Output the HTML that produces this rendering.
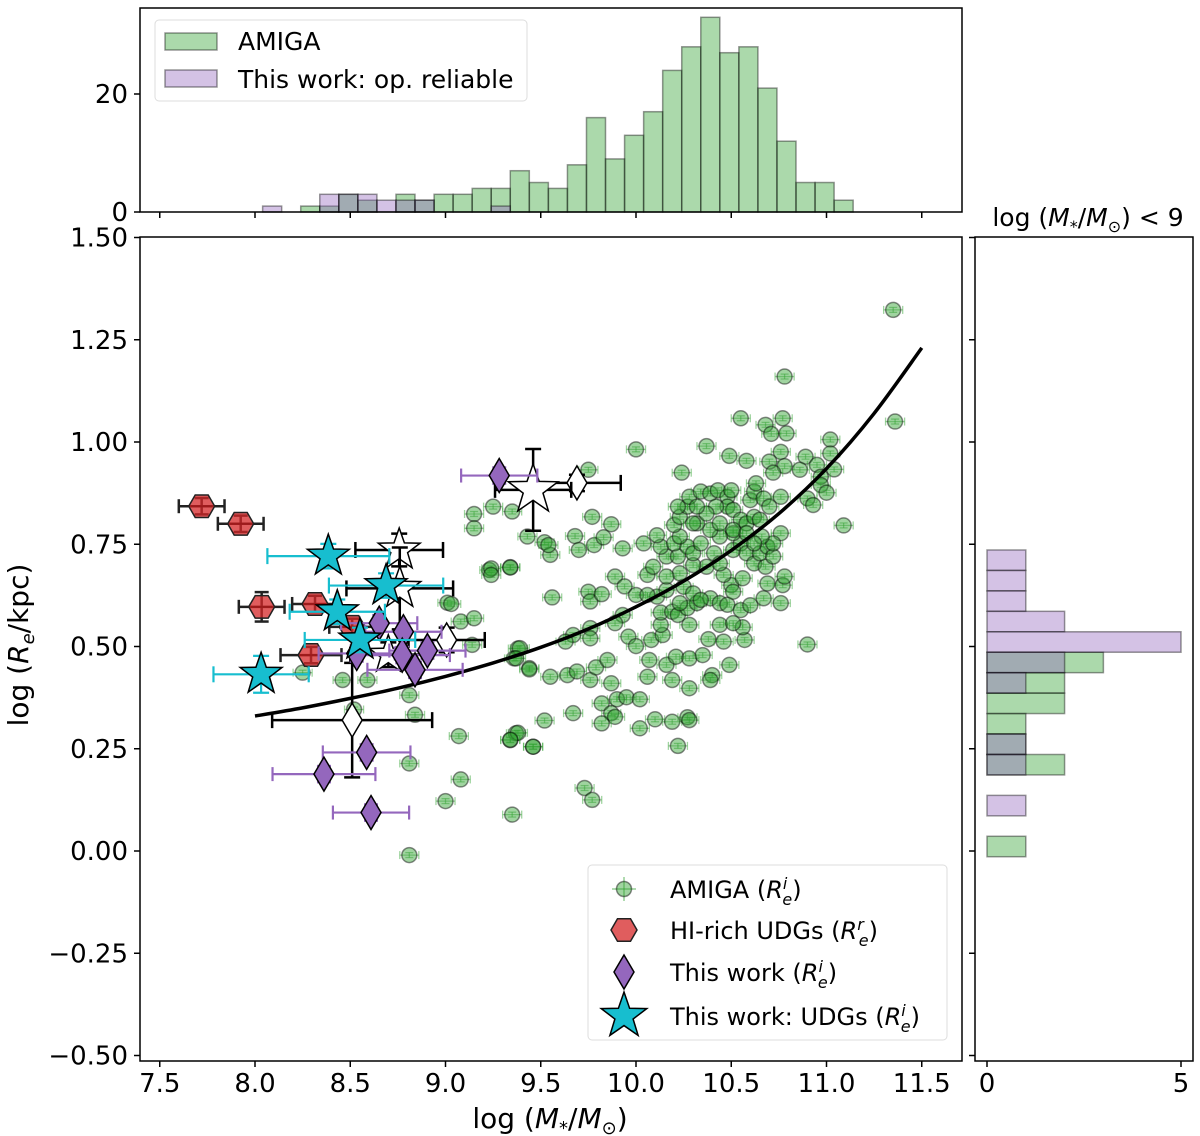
<!DOCTYPE html>
<html><head><meta charset="utf-8">
<style>
html,body{margin:0;padding:0;background:#fff;}
svg{display:block;font-family:"DejaVu Sans","Liberation Sans",sans-serif;}
</style></head>
<body>
<svg id="fig" width="1200" height="1136" viewBox="0 0 1200 1136" xmlns="http://www.w3.org/2000/svg"></svg>
<script>
// ---------- data ----------
const amigaX = [11.35,10.78,11.36,10.55,10.68,10.77,10.79,10.71,11.02,10.0,10.37,10.49,10.58,10.76,10.70,10.78,10.72,10.89,10.95,10.86,11.02,11.04,10.97,10.97,11.0,10.90,10.93,11.09,10.24,9.75,9.25,9.77,9.87,9.43,9.52,9.55,9.68,9.70,9.78,9.83,9.93,9.23,9.34,9.56,9.75,9.76,9.82,9.89,9.94,10.0,9.93,9.89,9.96,10.0,10.08,9.76,9.76,9.67,9.63,9.38,9.36,9.44,9.55,9.64,9.69,9.76,9.79,9.85,9.87,9.82,9.9,9.95,10.02,9.87,9.89,9.82,9.67,9.52,9.37,9.34,9.46,10.02,10.10,10.19,10.27,10.28,10.22,10.07,10.06,10.16,10.19,10.21,10.28,10.28,10.35,10.40,10.39,10.49,10.38,10.46,10.57,10.90,10.56,10.44,10.51,10.28,10.14,10.13,10.13,10.19,10.22,10.27,10.32,10.39,10.44,10.48,10.55,10.6,10.67,10.76,10.11,10.06,10.16,10.25,10.3,10.34,10.23,10.69,10.77,10.78,10.50,10.51,10.56,10.46,10.37,10.30,10.23,10.16,10.06,10.09,10.16,10.22,10.13,10.04,10.11,10.20,10.27,10.23,10.30,10.34,10.41,10.44,10.51,10.55,10.58,10.62,10.68,10.65,10.69,10.72,10.76,10.72,10.66,10.51,10.44,10.39,10.32,10.20,10.23,10.27,10.22,10.28,10.34,10.39,10.43,10.48,10.50,10.48,10.51,10.55,10.58,10.62,10.65,10.6,10.62,10.63,10.67,10.70,10.76,10.42,10.37,10.44,10.51,10.58,10.62,10.32,10.30,9.15,9.15,9.24,9.34,9.24,9.01,9.03,9.08,9.15,9.14,9.39,9.37,9.44,8.25,8.46,8.59,8.81,8.84,9.07,9.38,9.34,9.46,8.52,8.81,9.08,9.0,9.35,8.81,9.73,9.77,9.35,9.54];
const amigaY = [1.323,1.16,1.05,1.058,1.042,1.058,1.021,1.02,1.006,0.982,0.99,0.966,0.954,0.976,0.952,0.941,0.925,0.964,0.944,0.932,0.972,0.933,0.915,0.895,0.876,0.862,0.846,0.796,0.925,0.932,0.842,0.817,0.799,0.769,0.755,0.724,0.77,0.736,0.748,0.767,0.74,0.687,0.694,0.62,0.634,0.61,0.628,0.671,0.647,0.626,0.577,0.557,0.524,0.501,0.516,0.545,0.52,0.528,0.512,0.495,0.471,0.447,0.426,0.43,0.439,0.418,0.449,0.467,0.41,0.361,0.371,0.376,0.371,0.337,0.328,0.312,0.337,0.319,0.288,0.271,0.255,0.30,0.322,0.316,0.327,0.32,0.257,0.467,0.426,0.455,0.418,0.475,0.398,0.471,0.479,0.43,0.418,0.455,0.518,0.512,0.516,0.505,0.547,0.553,0.557,0.553,0.528,0.553,0.583,0.585,0.577,0.594,0.606,0.618,0.606,0.602,0.589,0.601,0.618,0.606,0.622,0.626,0.638,0.646,0.63,0.614,0.606,0.654,0.65,0.671,0.65,0.634,0.667,0.675,0.695,0.699,0.679,0.671,0.675,0.695,0.72,0.72,0.744,0.752,0.772,0.752,0.744,0.769,0.728,0.752,0.728,0.703,0.736,0.752,0.728,0.703,0.695,0.728,0.744,0.72,0.777,0.752,0.769,0.777,0.769,0.785,0.801,0.797,0.817,0.842,0.842,0.866,0.879,0.874,0.882,0.866,0.882,0.842,0.834,0.81,0.801,0.817,0.81,0.858,0.879,0.899,0.862,0.842,0.866,0.842,0.825,0.801,0.785,0.777,0.752,0.842,0.801,0.824,0.789,0.691,0.693,0.675,0.607,0.604,0.561,0.569,0.504,0.496,0.471,0.444,0.436,0.418,0.418,0.381,0.333,0.281,0.289,0.272,0.255,0.346,0.214,0.175,0.122,0.089,-0.01,0.154,0.125,0.83,0.748];

const redX = [7.72,7.925,8.035,8.315,8.51,8.294];
const redY = [0.843,0.80,0.597,0.604,0.548,0.479];
const redXerr = [0.12,0.12,0.12,0.12,0.12,0.16];
const redYerr = [0.02,0.02,0.036,0.02,0.02,0.02];

const purX = [9.282,8.652,8.779,8.773,8.905,8.84,8.534,8.586,8.362,8.609];
const purY = [0.918,0.557,0.536,0.479,0.49,0.443,0.483,0.241,0.188,0.094];
const purXerr = [0.2,0.2,0.2,0.25,0.2,0.25,0.2,0.23,0.27,0.2];
const purYerr = [0.02,0.02,0.02,0.02,0.02,0.02,0.02,0.02,0.02,0.02];

const cyX = [8.385,8.688,8.432,8.551,8.032];
const cyY = [0.721,0.649,0.585,0.516,0.432];
const cyXerr = [0.32,0.3,0.25,0.29,0.25];
const cyYerr = [0.03,0.03,0.03,0.03,0.045];

const whiteStarX = [8.757,8.76,8.70,9.46];
const whiteStarY = [0.736,0.642,0.48,0.883];
const whiteStarXerr = [0.23,0.28,0.2,0.2];
const whiteStarYerr = [0.04,0.1,0.03,0.1];
const whiteStarSize = [22,22,20,26];

const whiteDiaX = [9.006,8.51,9.69];
const whiteDiaY = [0.516,0.32,0.90];
const whiteDiaXerr = [0.2,0.42,0.23];
const whiteDiaYerr = [0.03,0.14,0.02];

const fitX = [8.0,8.25,8.5,8.75,9.0,9.25,9.5,9.75,10.0,10.25,10.5,10.75,11.0,11.25,11.5];
const fitY = [0.33,0.35,0.373,0.398,0.427,0.46,0.498,0.543,0.597,0.66,0.735,0.825,0.935,1.07,1.23];

const histEdge0 = 8.04, histBin = 0.1;
const histAmiga = [0,0,1,1,3,2,0,3,2,3,3,4,4,7,5,4,8,16,9,13,17,24,28,33,27,28,21,12,5,5,2];
const histThis  = [1,0,0,3,3,3,2,2,2,0,0,0,1,0,0,0,0,0,0,0,0,0,0,0,0,0,0,0,0,0,0];

const rEdgeTop = 0.736, rBin = 0.05;
const rhistAmiga = [0,0,0,0,0,3,2,2,1,1,2,0,0,0,1];
const rhistThis  = [1,1,1,2,5,2,1,0,0,1,1,0,1,0,0];

const xTicks = [7.5,8.0,8.5,9.0,9.5,10.0,10.5,11.0,11.5];
const xTickLabels = ["7.5","8.0","8.5","9.0","9.5","10.0","10.5","11.0","11.5"];
const yTicks = [-0.5,-0.25,0,0.25,0.5,0.75,1.0,1.25,1.5];
const yTickLabels = ["\u22120.50","\u22120.25","0.00","0.25","0.50","0.75","1.00","1.25","1.50"];
const topYTicks = [0,20];
const rightXTicks = [0,5];

// ---------- scales ----------
const sx = v => 255 + (v-8)*190.5;
const sy = v => 851 - v*409;
const hy = c => 212 - c*5.9;
const rx = c => 987 + c*38.8;
const FT = 237, FB = 1061;

const NS = "http://www.w3.org/2000/svg";
const svg = document.getElementById('fig');
function mk(tag, attrs, parent){
  const e = document.createElementNS(NS, tag);
  for (const k in attrs) e.setAttribute(k, attrs[k]);
  (parent||svg).appendChild(e);
  return e;
}
function grp(name){
  const g = mk('g', {});
  
  
  return g;
}
function txt(s, x, y, opts, parent){
  const t = mk('text', Object.assign({x:x, y:y, 'font-size':26, fill:'#000'}, opts||{}), parent);
  t.textContent = s;
  return t;
}
function starPts(cx, cy, R){
  const r = R*0.4; let p=[];
  for (let i=0;i<10;i++){
    const a = -Math.PI/2 + i*Math.PI/5;
    const rr = i%2===0 ? R : r;
    p.push((cx+rr*Math.cos(a)).toFixed(1)+','+(cy+rr*Math.sin(a)).toFixed(1));
  }
  return p.join(' ');
}
function hexPts(cx, cy, R){
  let p=[];
  for (let i=0;i<6;i++){
    const a = i*Math.PI/3;
    p.push((cx+R*Math.cos(a)).toFixed(1)+','+(cy+R*Math.sin(a)).toFixed(1));
  }
  return p.join(' ');
}
function diaPts(cx, cy, w, h){
  return `${cx},${cy-h} ${cx+w},${cy} ${cx},${cy+h} ${cx-w},${cy}`;
}
function errbar(g, x, y, xe, ye, color, w, cap){
  const X=sx(x), Y=sy(y), x1=sx(x-xe), x2=sx(x+xe), y1=sy(y+ye), y2=sy(y-ye);
  mk('line',{x1:x1,y1:Y,x2:x2,y2:Y,stroke:color,'stroke-width':w},g);
  mk('line',{x1:X,y1:y1,x2:X,y2:y2,stroke:color,'stroke-width':w},g);
  mk('line',{x1:x1,y1:Y-cap,x2:x1,y2:Y+cap,stroke:color,'stroke-width':w},g);
  mk('line',{x1:x2,y1:Y-cap,x2:x2,y2:Y+cap,stroke:color,'stroke-width':w},g);
  mk('line',{x1:X-cap,y1:y1,x2:X+cap,y2:y1,stroke:color,'stroke-width':w},g);
  mk('line',{x1:X-cap,y1:y2,x2:X+cap,y2:y2,stroke:color,'stroke-width':w},g);
}

// ---------- top histogram ----------
const gTop = grp('top-histogram');
histAmiga.forEach((c,i)=>{
  if(!c) return;
  const x0 = sx(histEdge0+i*histBin), x1 = sx(histEdge0+(i+1)*histBin);
  const r = mk('rect',{x:x0,y:hy(c),width:x1-x0,height:hy(0)-hy(c),fill:'rgba(44,160,44,0.4)',stroke:'rgba(0,0,0,0.4)','stroke-width':1.5},gTop);
  
  
});
histThis.forEach((c,i)=>{
  if(!c) return;
  const x0 = sx(histEdge0+i*histBin), x1 = sx(histEdge0+(i+1)*histBin);
  const r = mk('rect',{x:x0,y:hy(c),width:x1-x0,height:hy(0)-hy(c),fill:'rgba(148,103,189,0.4)',stroke:'rgba(0,0,0,0.4)','stroke-width':1.5},gTop);
  
  
});
mk('rect',{x:140,y:8,width:822,height:204,fill:'none',stroke:'#000','stroke-width':1.5},gTop);
topYTicks.forEach(t=>{
  mk('line',{x1:134,y1:hy(t),x2:140,y2:hy(t),stroke:'#000','stroke-width':1.5},gTop);
  const l = txt(String(t),128,hy(t)+9,{'text-anchor':'end'},gTop);
  
  
});
xTicks.forEach(t=>{
  mk('line',{x1:sx(t),y1:212,x2:sx(t),y2:218,stroke:'#000','stroke-width':1.5},gTop);
});
// top legend
const gTL = grp('top-legend');
mk('rect',{x:155,y:20,width:372,height:81,rx:4,fill:'rgba(255,255,255,0.8)',stroke:'#ddd','stroke-width':1},gTL);
mk('rect',{x:165,y:33,width:52,height:17,fill:'rgba(44,160,44,0.4)',stroke:'rgba(0,0,0,0.4)','stroke-width':1.5},gTL);
txt('AMIGA',238,50,{'font-size':25},gTL);
mk('rect',{x:165,y:70,width:52,height:17,fill:'rgba(148,103,189,0.4)',stroke:'rgba(0,0,0,0.4)','stroke-width':1.5},gTL);
txt('This work: op. reliable',238,88,{'font-size':25},gTL);

// ---------- right histogram ----------
const gR = grp('right-histogram');
const rt = mk('text',{x:1088,y:226,'font-size':25,'text-anchor':'middle'},gR);


rt.innerHTML = 'log (<tspan font-style="italic">M</tspan><tspan font-size="16" dy="6">*</tspan><tspan dy="-6">/</tspan><tspan font-style="italic">M</tspan><tspan font-size="16" dy="6">\u2299</tspan><tspan dy="-6">) &lt; 9</tspan>';
function rbars(arr, fill, name){
  arr.forEach((c,i)=>{
    if(!c) return;
    const yTop = sy(rEdgeTop - i*rBin), yBot = sy(rEdgeTop-(i+1)*rBin);
    const r = mk('rect',{x:rx(0),y:yTop,width:rx(c)-rx(0),height:yBot-yTop,fill:fill,stroke:'rgba(0,0,0,0.4)','stroke-width':1.5},gR);
    
    
  });
}
rbars(rhistAmiga,'rgba(44,160,44,0.4)','amiga-size-bar');
rbars(rhistThis,'rgba(148,103,189,0.4)','this-work-size-bar');
mk('rect',{x:975,y:FT,width:218,height:FB-FT,fill:'none',stroke:'#000','stroke-width':1.5},gR);
yTicks.forEach(t=>{
  mk('line',{x1:969,y1:sy(t),x2:975,y2:sy(t),stroke:'#000','stroke-width':1.5},gR);
});
rightXTicks.forEach(t=>{
  mk('line',{x1:rx(t),y1:FB,x2:rx(t),y2:FB+6,stroke:'#000','stroke-width':1.5},gR);
  const l = txt(String(t),rx(t),1092,{'text-anchor':'middle'},gR);
  
  
});

// ---------- main scatter ----------
const clip = mk('clipPath',{id:'mainclip'});
mk('rect',{x:140,y:FT,width:822,height:FB-FT},clip);
const gM = grp('main-scatter');
gM.setAttribute('clip-path','url(#mainclip)');

const gA = mk('g',{},gM);


amigaX.forEach((x,i)=>{
  const y = amigaY[i];
  errbar(gA,x,y,0.05,0.006,'rgba(44,160,44,0.45)',1.3,4);
  const c = mk('circle',{cx:sx(x),cy:sy(y),r:7.5,fill:'rgba(44,160,44,0.45)',stroke:'rgba(0,0,0,0.45)','stroke-width':1.5},gA);
  
  
});

// smooth curve through fit points (Catmull-Rom)
const fp = fitX.map((x,i)=>[sx(x),sy(fitY[i])]);
let d = 'M'+fp[0][0]+','+fp[0][1];
for (let i=0;i<fp.length-1;i++){
  const p0=fp[Math.max(0,i-1)], p1=fp[i], p2=fp[i+1], p3=fp[Math.min(fp.length-1,i+2)];
  const c1=[p1[0]+(p2[0]-p0[0])/6, p1[1]+(p2[1]-p0[1])/6];
  const c2=[p2[0]-(p3[0]-p1[0])/6, p2[1]-(p3[1]-p1[1])/6];
  d += ` C${c1[0].toFixed(1)},${c1[1].toFixed(1)} ${c2[0].toFixed(1)},${c2[1].toFixed(1)} ${p2[0].toFixed(1)},${p2[1].toFixed(1)}`;
}
const fit = mk('path',{d:d,fill:'none',stroke:'#000','stroke-width':3.5},gM);



const gW = mk('g',{},gM);


whiteDiaX.forEach((x,i)=>{
  errbar(gW,x,whiteDiaY[i],whiteDiaXerr[i],whiteDiaYerr[i],'#000',2.5,8);
  const p = mk('polygon',{points:diaPts(sx(x),sy(whiteDiaY[i]),10,17),fill:'#fff',stroke:'#000','stroke-width':1.5},gW);
  
  
});
whiteStarX.forEach((x,i)=>{
  errbar(gW,x,whiteStarY[i],whiteStarXerr[i],whiteStarYerr[i],'#000',2.5,8);
  const p = mk('polygon',{points:starPts(sx(x),sy(whiteStarY[i]),whiteStarSize[i]),fill:'#fff',stroke:'#000','stroke-width':1.5},gW);
  
  
});

const gRed = mk('g',{},gM);


redX.forEach((x,i)=>{
  errbar(gRed,x,redY[i],redXerr[i],redYerr[i],'#222',2.5,7);
  const p = mk('polygon',{points:hexPts(sx(x),sy(redY[i]),13),fill:'rgba(214,39,40,0.75)',stroke:'#222','stroke-width':1.5},gRed);
  
  
  mk('line',{x1:sx(x)-11,y1:sy(redY[i]),x2:sx(x)+11,y2:sy(redY[i]),stroke:'rgba(150,20,20,0.6)','stroke-width':2},gRed);
});

const gP = mk('g',{},gM);


purX.forEach((x,i)=>{
  errbar(gP,x,purY[i],purXerr[i],purYerr[i],'#9467bd',2.2,7);
});
purX.forEach((x,i)=>{
  const p = mk('polygon',{points:diaPts(sx(x),sy(purY[i]),10,17),fill:'#9467bd',stroke:'#000','stroke-width':1.5},gP);
  
  
});

const gC = mk('g',{},gM);


cyX.forEach((x,i)=>{
  errbar(gC,x,cyY[i],cyXerr[i],cyYerr[i],'#17becf',2.2,8);
});
cyX.forEach((x,i)=>{
  const p = mk('polygon',{points:starPts(sx(x),sy(cyY[i]),22),fill:'#17becf',stroke:'#000','stroke-width':1.5},gC);
  
  
});

// main frame & axes
const gAx = grp('main-axes');
mk('rect',{x:140,y:FT,width:822,height:FB-FT,fill:'none',stroke:'#000','stroke-width':1.5},gAx);
xTicks.forEach((t,i)=>{
  mk('line',{x1:sx(t),y1:FB,x2:sx(t),y2:FB+6,stroke:'#000','stroke-width':1.5},gAx);
  const l = txt(xTickLabels[i],sx(t),1092,{'text-anchor':'middle'},gAx);
  
  
});
yTicks.forEach((t,i)=>{
  mk('line',{x1:134,y1:sy(t),x2:140,y2:sy(t),stroke:'#000','stroke-width':1.5},gAx);
  const l = txt(yTickLabels[i],128,sy(t)+9,{'text-anchor':'end'},gAx);
  
  
});
const xl = mk('text',{x:550,y:1128,'font-size':28,'text-anchor':'middle'},gAx);


xl.innerHTML = 'log (<tspan font-style="italic">M</tspan><tspan font-size="18" dy="6">*</tspan><tspan dy="-6">/</tspan><tspan font-style="italic">M</tspan><tspan font-size="18" dy="6">\u2299</tspan><tspan dy="-6">)</tspan>';
const yl = mk('text',{x:0,y:0,'font-size':28,'text-anchor':'middle',transform:'translate(28,645) rotate(-90)'},gAx);


yl.innerHTML = 'log (<tspan font-style="italic">R</tspan><tspan font-style="italic" font-size="18" dy="6">e</tspan><tspan dy="-6">/kpc)</tspan>';

// main legend
const gL = grp('main-legend');
mk('rect',{x:588,y:865,width:359,height:175,rx:4,fill:'rgba(255,255,255,0.85)',stroke:'#ddd','stroke-width':1},gL);
function legLabel(y, pre, sup){
  const t = mk('text',{x:670,y:y+9,'font-size':24},gL);
  t.innerHTML = pre+' (<tspan font-style="italic">R</tspan><tspan font-style="italic" font-size="16" dy="-9">'+sup+'</tspan><tspan font-style="italic" font-size="16" dx="-5" dy="16">e</tspan><tspan dy="-7">)</tspan>';
  return t;
}
mk('line',{x1:612,y1:889,x2:636,y2:889,stroke:'rgba(44,160,44,0.5)','stroke-width':1.5},gL);
mk('line',{x1:624,y1:877,x2:624,y2:901,stroke:'rgba(44,160,44,0.5)','stroke-width':1.5},gL);
mk('circle',{cx:624,cy:889,r:7.5,fill:'rgba(44,160,44,0.45)',stroke:'rgba(0,0,0,0.45)','stroke-width':1.5},gL);
legLabel(889,'AMIGA','i');
mk('polygon',{points:hexPts(624,930,13),fill:'rgba(214,39,40,0.75)',stroke:'#222','stroke-width':1.5},gL);
legLabel(930,'HI-rich UDGs','r');
mk('polygon',{points:diaPts(624,972,10,17),fill:'#9467bd',stroke:'#000','stroke-width':1.5},gL);
legLabel(972,'This work','i');
mk('polygon',{points:starPts(624,1016,24),fill:'#17becf',stroke:'#000','stroke-width':1.5},gL);
legLabel(1016,'This work: UDGs','i');
</script>
</body></html>
